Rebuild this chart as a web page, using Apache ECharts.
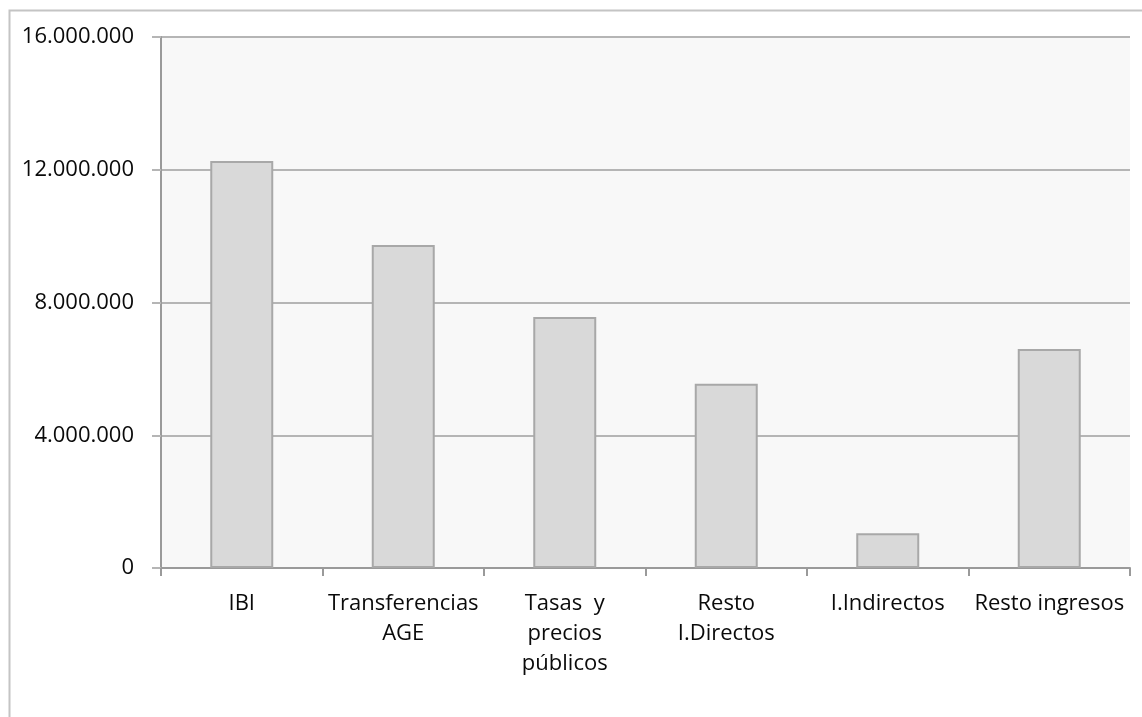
<!DOCTYPE html>
<html>
<head>
<meta charset="utf-8">
<script src="https://cdn.jsdelivr.net/npm/echarts@6/dist/echarts.min.js"></script>
<style>html,body{margin:0;padding:0;background:#fff}#c{width:1142px;height:717px}</style>
</head>
<body>
<div id="c"></div>
<script>
const categories = ["IBI", "Transferencias\nAGE", "Tasas  y\nprecios\npúblicos", "Resto\nI.Directos", "I.Indirectos", "Resto ingresos"];
const values = [12260000, 9730000, 7560000, 5550000, 1050000, 6600000];
const yMin = 0, yMax = 16000000, yInterval = 4000000;

function fmt(v) {
  return String(Math.round(v)).replace(/\B(?=(\d{3})+(?!\d))/g, ".");
}

const chart = echarts.init(document.getElementById('c'), null, {renderer: 'canvas'});
chart.setOption({
  animation: false,
  backgroundColor: '#ffffff',
  textStyle: {fontFamily: 'Open Sans'},
  graphic: [{
    type: 'rect', silent: true, z: -10,
    shape: {x: 9.5, y: 10.5, width: 1300, height: 900},
    style: {fill: 'none', stroke: '#c4c4c4', lineWidth: 2}
  }],
  grid: {left: 161, right: 12, top: 37, bottom: 149, show: true, backgroundColor: '#f8f8f8', borderWidth: 0},
  xAxis: {
    type: 'category',
    data: categories,
    boundaryGap: true,
    axisLine: {show: true, lineStyle: {color: '#9a9a9a', width: 2}},
    axisTick: {show: true, length: 8, lineStyle: {color: '#9a9a9a', width: 2}},
    axisLabel: {interval: 0, margin: 21, fontSize: 22, lineHeight: 30, color: '#0a0a0a', fontFamily: 'Open Sans', fontWeight: 500, align: 'center'}
  },
  yAxis: {
    type: 'value',
    min: yMin, max: yMax, interval: yInterval,
    axisLine: {show: true, lineStyle: {color: '#9a9a9a', width: 2}},
    axisTick: {show: true, length: 9, lineStyle: {color: '#b5b5b5', width: 2}},
    splitLine: {show: true, lineStyle: {color: '#b5b5b5', width: 2}},
    axisLabel: {margin: 27, fontSize: 22, color: '#0a0a0a', fontFamily: 'Open Sans', formatter: fmt}
  },
  series: [{
    type: 'bar',
    data: values,
    barWidth: 63,
    itemStyle: {color: '#d9d9d9', borderColor: '#a8a8a8', borderWidth: 2}
  }]
});
</script>
</body>
</html>
